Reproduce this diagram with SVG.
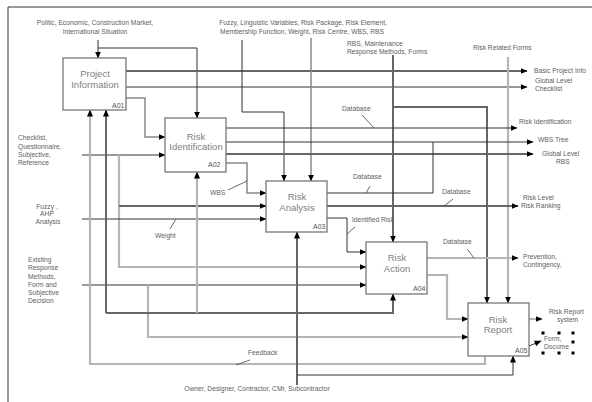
<svg xmlns="http://www.w3.org/2000/svg" width="592" height="402" viewBox="0 0 592 402">
<style>
text{font-family:"Liberation Sans",Arial,sans-serif;fill:#606060}
.s{font-size:6.7px}
.b{font-size:9.5px;fill:#808080;text-anchor:middle}
.id{font-size:7px;fill:#555}
.m{text-anchor:middle}
.box{fill:#fff;stroke:#777;stroke-width:1.3}
#connectors path,.fr{fill:none}
.t{stroke:#333;stroke-width:1}
.k{stroke:#666;stroke-width:2}
.g{stroke:#b5b5b5;stroke-width:2.2}
.n{stroke:#888;stroke-width:1.5}
.l{stroke:#444;stroke-width:0.8}
.a{marker-end:url(#ar)}
.h{fill:#000}
.ah{fill:#000;stroke:none}
</style>
<defs>
<marker id="ar" markerWidth="8" markerHeight="8" refX="6.5" refY="3" orient="auto" markerUnits="userSpaceOnUse">
<path class="ah" d="M0,0 L7,3 L0,6 z"/>
</marker>
</defs>
<rect width="592" height="402" fill="#fff"/>
<path class="t fr" d="M8,402 V7 H592"/>

<g id="connectors">
<path class="t a" d="M98,40 V58"/>
<path class="t a" d="M98,48 H197 V118"/>
<path class="k a" d="M126,71 H527"/>
<path class="t a" d="M126,87 H527"/>
<path class="n a" d="M126,98 H145 V137 H165"/>
<path class="t a" d="M82,155 H165"/>
<path class="g a" d="M119,155 V267 H366"/>
<path class="k a" d="M119,206 H266"/>
<path class="t a" d="M82,219 H266"/>
<path class="t a" d="M82,285 H366"/>
<path class="g a" d="M148,285 V337 H468"/>
<path class="g a" d="M485,356 V364 H90 V110"/>
<path class="k a" d="M106,313 V110"/>
<path class="k a" d="M106,313 H393 V294"/>
<path class="g a" d="M197,313 V172"/>
<path class="k a" d="M297,385 V232"/>
<path class="t a" d="M297,375 H513 V356"/>
<path class="t a" d="M242,40 V112 H284 V181"/>
<path class="n a" d="M311,38 V181"/>
<path class="k a" d="M393,55 V242"/>
<path class="k a" d="M393,107 H487 V303"/>
<path class="g a" d="M508,57 V303"/>
<path class="t a" d="M226,128 H517"/>
<path class="t a" d="M226,142 H533"/>
<path class="k a" d="M226,154 H533"/>
<path class="n a" d="M226,163 H247 V193 H266"/>
<path class="t" d="M327,193 H433 V142"/>
<path class="k a" d="M327,206 H518"/>
<path class="t a" d="M327,218 H347 V252 H366"/>
<path class="g a" d="M427,258 H518"/>
<path class="g a" d="M427,275 H447 V319 H468"/>
<path class="g a" d="M529,319 H542"/>
<path class="t a" d="M529,346 L541,341"/>
<path class="l" d="M362,115 L374,128"/>
<path class="l" d="M370,186 L366,193"/>
<path class="l" d="M453,199 L444,206"/>
<path class="l" d="M467,249 L474,258"/>
<path class="l" d="M228,190 L247,181"/>
<path class="l" d="M170,229 L176,219"/>
<path class="l" d="M355,227 L347,234"/>
<path class="l" d="M250,360 L236,365"/>
</g>

<g id="labels">
<text class="s m" x="95" y="25">Politic, Economic, Construction Market,</text>
<text class="s m" x="95" y="34">International Situation</text>
<text class="s m" x="303" y="25">Fuzzy, Linguistic Variables, Risk Package, Risk Element,</text>
<text class="s m" x="302" y="34">Membership Function, Weight, Risk Centre, WBS, RBS</text>
<text class="s" x="347" y="46">RBS, Maintenance</text>
<text class="s" x="347" y="54">Response Methods, Forms</text>
<text class="s" x="473" y="50">Risk Related Forms</text>
<text class="s" x="534" y="73">Basic Project Info</text>
<text class="s" x="535" y="83">Global Level</text>
<text class="s" x="535" y="91">Checklist</text>
<text class="s" x="519" y="124">Risk Identification</text>
<text class="s" x="538" y="142">WBS Tree</text>
<text class="s" x="542" y="156">Global Level</text>
<text class="s" x="556" y="164">RBS</text>
<text class="s" x="523" y="200">Risk Level</text>
<text class="s" x="521" y="208">Risk Ranking</text>
<text class="s" x="523" y="259">Prevention,</text>
<text class="s" x="523" y="267">Contingency,</text>
<text class="s" x="549" y="314">Risk Report</text>
<text class="s" x="557" y="322">system</text>
<text class="s" x="544" y="341">Form,</text>
<text class="s" x="544" y="349">Docume</text>
<text class="s" x="18" y="140">Checklist,</text>
<text class="s" x="18" y="149">Questionnaire,</text>
<text class="s" x="18" y="157">Subjective,</text>
<text class="s" x="18" y="165">Reference</text>
<text class="s m" x="47" y="209">Fuzzy ,</text>
<text class="s m" x="47" y="216">AHP</text>
<text class="s m" x="48" y="224">Analysis</text>
<text class="s" x="28" y="262">Existing</text>
<text class="s" x="28" y="270">Response</text>
<text class="s" x="28" y="279">Methods,</text>
<text class="s" x="28" y="287">Form and</text>
<text class="s" x="28" y="295">Subjective</text>
<text class="s" x="28" y="303">Decision</text>
<text class="s m" x="257" y="391">Owner, Designer, Contractor, CMr, Subcontractor</text>
<text class="s" x="248" y="355">Feedback</text>
<text class="s" x="342" y="111">Database</text>
<text class="s" x="353" y="179">Database</text>
<text class="s" x="442" y="194">Database</text>
<text class="s" x="443" y="244">Database</text>
<text class="s" x="210" y="195">WBS</text>
<text class="s" x="155" y="238">Weight</text>
<text class="s" x="352" y="222">Identified Risk</text>
</g>

<g id="A01">
<rect class="box" x="63" y="58" width="63" height="52"/>
<text class="b" x="95" y="77">Project</text>
<text class="b" x="95" y="88">Information</text>
<text class="id" x="112" y="108">A01</text>
</g>
<g id="A02">
<rect class="box" x="165" y="118" width="61" height="54"/>
<text class="b" x="196" y="140">Risk</text>
<text class="b" x="196" y="150">Identification</text>
<text class="id" x="208" y="167">A02</text>
</g>
<g id="A03">
<rect class="box" x="266" y="181" width="61" height="51"/>
<text class="b" x="297" y="200">Risk</text>
<text class="b" x="297" y="211">Analysis</text>
<text class="id" x="313" y="229">A03</text>
</g>
<g id="A04">
<rect class="box" x="366" y="242" width="61" height="52"/>
<text class="b" x="397" y="261">Risk</text>
<text class="b" x="397" y="272">Action</text>
<text class="id" x="413" y="291">A04</text>
</g>
<g id="A05">
<rect class="box" x="468" y="303" width="61" height="53"/>
<text class="b" x="498" y="323">Risk</text>
<text class="b" x="498" y="333">Report</text>
<text class="id" x="515" y="353">A05</text>
</g>
<g id="selection">
<rect class="h" x="541.5" y="331.5" width="3" height="3"/>
<rect class="h" x="557.5" y="331.5" width="3" height="3"/>
<rect class="h" x="571.5" y="331.5" width="3" height="3"/>
<rect class="h" x="571.5" y="340.5" width="3" height="3"/>
<rect class="h" x="541.5" y="351.5" width="3" height="3"/>
<rect class="h" x="557.5" y="351.5" width="3" height="3"/>
<rect class="h" x="571.5" y="351.5" width="3" height="3"/>
</g>
</svg>
